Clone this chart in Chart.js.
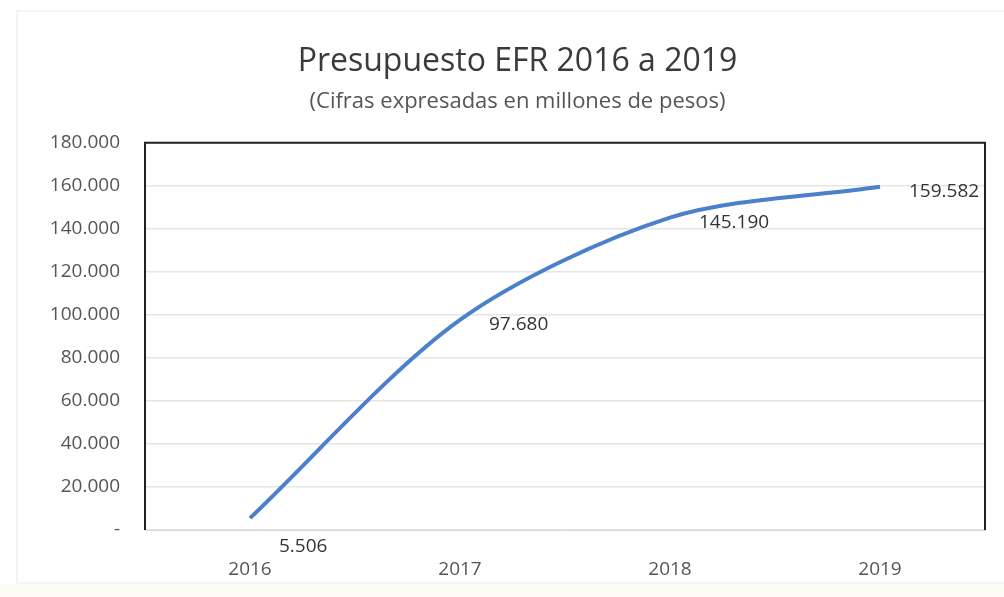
<!DOCTYPE html>
<html>
<head>
<meta charset="utf-8">
<script src="https://cdn.jsdelivr.net/npm/chart.js@4"></script>
<style>
  html, body { margin: 0; padding: 0; background: #ffffff; }
  #wrap { width: 1004px; height: 597px; }
</style>
</head>
<body>
<div id="wrap"><canvas id="myChart" width="1004" height="597"></canvas></div>
<script>
const years = ['2016', '2017', '2018', '2019'];
const budget = [5506, 97680, 145190, 159582];
const yTicks = [0, 20000, 40000, 60000, 80000, 100000, 120000, 140000, 160000, 180000];

// 12345 -> "12.345"
function fmt(v) {
  if (v === 0) return '-';
  return String(Math.round(v)).replace(/\B(?=(\d{3})+(?!\d))/g, '.');
}

// faint outer border of the chart object, like the sheet it was pasted from
const outer = {
  id: 'outer',
  beforeDraw(chart) {
    const c = chart.ctx;
    c.save();
    c.fillStyle = '#fdfcf4';
    c.fillRect(0, 584, chart.width, chart.height - 584);
    c.strokeStyle = '#f1f1f1';
    c.lineWidth = 1.5;
    c.strokeRect(17, 11, chart.width + 10, 572);
    c.restore();
  }
};

// black frame round the plot area (left, top, right)
const frame = {
  id: 'frame',
  afterDraw(chart) {
    const a = chart.chartArea;
    const c = chart.ctx;
    c.save();
    c.strokeStyle = '#222';
    c.lineWidth = 2;
    c.beginPath();
    c.moveTo(a.left, a.bottom);
    c.lineTo(a.left, a.top);
    c.lineTo(a.right, a.top);
    c.lineTo(a.right, a.bottom);
    c.stroke();
    c.restore();
  }
};

// value labels to the right of each point
const labels = {
  id: 'labels',
  afterDatasetsDraw(chart) {
    const meta = chart.getDatasetMeta(0);
    const c = chart.ctx;
    c.save();
    c.font = '19px "Open Sans", sans-serif';
    c.fillStyle = '#333';
    c.textAlign = 'left';
    c.textBaseline = 'middle';
    meta.data.forEach((pt, i) => {
      const dy = i === 0 ? 28 : 5;
      c.fillText(fmt(budget[i]), pt.x + 29, pt.y + dy);
    });
    c.restore();
  }
};

new Chart(document.getElementById('myChart'), {
  type: 'line',
  data: {
    labels: years,
    datasets: [{
      data: budget,
      borderColor: '#4a80cc',
      borderWidth: 4,
      pointRadius: 0,
      tension: 0.3,
      fill: false
    }]
  },
  options: {
    responsive: false,
    animation: false,
    layout: { padding: { left: 50, right: 19, bottom: 12, top: 0 } },
    plugins: {
      legend: { display: false },
      tooltip: { enabled: false },
      title: {
        display: true,
        text: 'Presupuesto EFR 2016 a 2019',
        color: '#3a3a3a',
        font: { family: '"Open Sans", sans-serif', size: 32, weight: 'normal' },
        padding: { top: 43, bottom: 7 }
      },
      subtitle: {
        display: true,
        text: '(Cifras expresadas en millones de pesos)',
        color: '#555',
        font: { family: '"Open Sans", sans-serif', size: 22 },
        padding: { top: 0, bottom: 28 }
      }
    },
    scales: {
      x: {
        offset: true,
        grid: { display: false },
        border: { display: true, color: '#d8d8d8', width: 1 },
        ticks: {
          color: '#555',
          padding: 20,
          font: { family: '"Open Sans", sans-serif', size: 19 }
        },
        afterFit(s) { s.height = 55; }
      },
      y: {
        min: 0,
        max: 180000,
        afterBuildTicks(s) { s.ticks = yTicks.map(v => ({ value: v })); },
        grid: { color: '#e6e6e6', drawTicks: false, lineWidth: 1.5 },
        border: { display: false },
        ticks: {
          color: '#555',
          padding: 25,
          font: { family: '"Open Sans", sans-serif', size: 19 },
          callback: v => fmt(v)
        },
        afterFit(s) { s.width = 95; }
      }
    }
  },
  plugins: [outer, frame, labels]
});
</script>
</body>
</html>
